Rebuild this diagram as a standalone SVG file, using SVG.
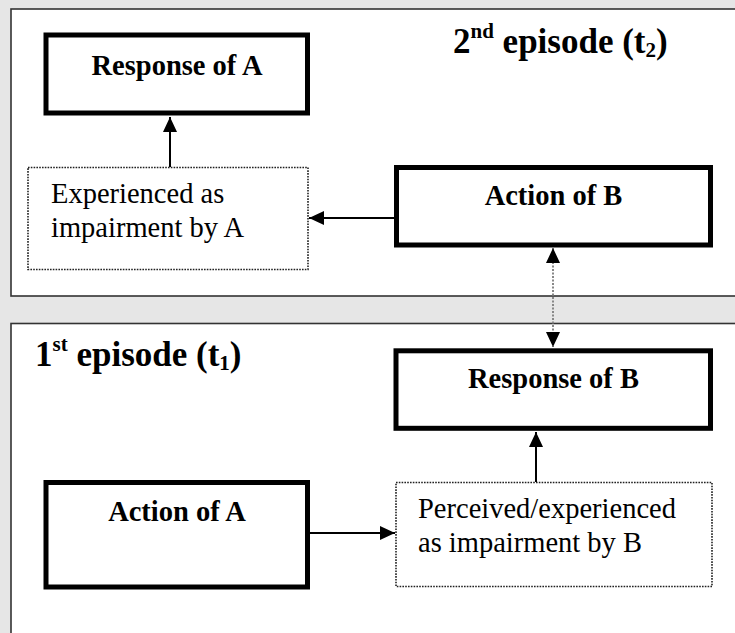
<svg xmlns="http://www.w3.org/2000/svg" width="735" height="633" viewBox="0 0 735 633">
<style>
.panel{fill:#fff;stroke:#333;stroke-width:1.6}
.box{fill:#fff;stroke:#000;stroke-width:5}
.dot{fill:#fff;stroke:#222;stroke-width:1.6;stroke-dasharray:1.6 1.2}
.con{stroke:#000;stroke-width:2;fill:none}
.dcon{stroke:#888;stroke-width:2;stroke-dasharray:2 1.5;fill:none}
text{font-family:"Liberation Serif","Times New Roman",serif;fill:#000}
.lbl{font-weight:bold;font-size:28.5px;text-anchor:middle}
.txt{font-size:28.5px}
.title{font-weight:bold;font-size:35px}
</style>
<defs>
<marker id="ah" markerUnits="userSpaceOnUse" markerWidth="16" markerHeight="14" refX="15" refY="7" orient="auto-start-reverse">
<path d="M0,0 L15,7 L0,14 z" fill="#000"/>
</marker>
</defs>
<rect x="0" y="0" width="735" height="633" fill="#e6e6e6"/>
<g id="panel-2nd">
<rect class="panel" x="11" y="9" width="740" height="287"/>
<text class="title" x="453" y="53">2<tspan font-size="21" dy="-15">nd</tspan><tspan dy="15"> episode (t</tspan><tspan font-size="21" dy="4">2</tspan><tspan dy="-4">)</tspan></text>
</g>
<g id="panel-1st">
<rect class="panel" x="11" y="323.5" width="740" height="330"/>
<text class="title" x="35" y="366">1<tspan font-size="21" dy="-15">st</tspan><tspan dy="15"> episode (t</tspan><tspan font-size="21" dy="4">1</tspan><tspan dy="-4">)</tspan></text>
</g>
<g id="response-a">
<rect class="box" x="46" y="35" width="261.5" height="78"/>
<text class="lbl" x="177" y="75">Response of A</text>
</g>
<g id="experienced-a">
<rect class="dot" x="28" y="167.5" width="280" height="102"/>
<text class="txt" x="51" y="203">Experienced as</text>
<text class="txt" x="51" y="237">impairment by A</text>
</g>
<g id="action-b">
<rect class="box" x="396.5" y="167.5" width="314" height="77.5"/>
<text class="lbl" x="553.5" y="205">Action of B</text>
</g>
<g id="response-b">
<rect class="box" x="396" y="350.8" width="314.5" height="77.5"/>
<text class="lbl" x="553.5" y="388">Response of B</text>
</g>
<g id="action-a">
<rect class="box" x="46" y="482.5" width="261.5" height="104.5"/>
<text class="lbl" x="177" y="520.5">Action of A</text>
</g>
<g id="perceived-b">
<rect class="dot" x="396" y="482.5" width="316" height="104"/>
<text class="txt" x="418" y="518">Perceived/experienced</text>
<text class="txt" x="418" y="552">as impairment by B</text>
</g>
<g id="connectors">
<line class="con" x1="170" y1="167" x2="170" y2="117" marker-end="url(#ah)"/>
<line class="con" x1="394" y1="218" x2="309" y2="218" marker-end="url(#ah)"/>
<line class="dcon" x1="553" y1="248" x2="553" y2="347" marker-start="url(#ah)" marker-end="url(#ah)"/>
<line class="con" x1="310" y1="533" x2="395" y2="533" marker-end="url(#ah)"/>
<line class="con" x1="536" y1="482" x2="536" y2="432" marker-end="url(#ah)"/>
</g>
</svg>
